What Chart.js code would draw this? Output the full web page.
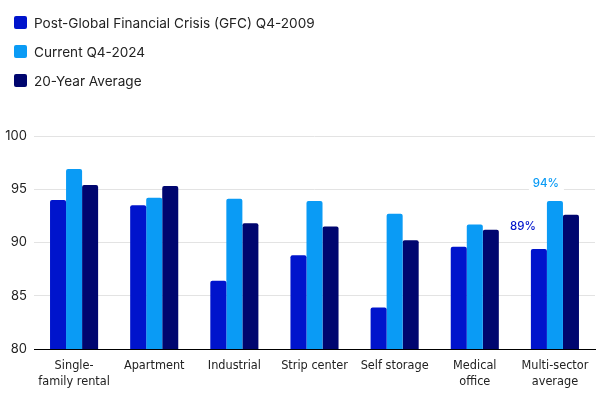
<!DOCTYPE html>
<html>
<head>
<meta charset="utf-8">
<script src="https://cdn.jsdelivr.net/npm/chart.js@4.4.1/dist/chart.umd.min.js"></script>
<style>
  html, body { margin: 0; padding: 0; background: #fff; }
  #wrap { position: relative; width: 600px; height: 394px; }
  #legend { position: absolute; left: 14px; top: 8px; font-family: Inter, 'Noto Sans', sans-serif; font-size: 13.6px; color: #222; }
  .item { display: flex; align-items: center; height: 29px; }
  .box { width: 13px; height: 13px; border-radius: 2px; margin-right: 7px; }
</style>
</head>
<body>
<div id="wrap">
  <canvas id="chart" width="600" height="394"></canvas>
  <div id="legend"></div>
</div>
<script>
// Data
const categories = [['Single-', 'family rental'], 'Apartment', 'Industrial', 'Strip center', 'Self storage', ['Medical', 'office'], ['Multi-sector', 'average']];
const seriesNames = ['Post-Global Financial Crisis (GFC) Q4-2009', 'Current Q4-2024', '20-Year Average'];
const gfcValues = [94.0, 93.5, 86.4, 88.8, 83.9, 89.6, 89.4];
const currentValues = [96.9, 94.2, 94.1, 93.9, 92.7, 91.7, 93.9];
const averageValues = [95.4, 95.3, 91.8, 91.5, 90.2, 91.2, 92.6];
const yTicks = [80, 85, 90, 95, 100];
const callouts = [
  { dataset: 0, index: 6, text: '89%' },
  { dataset: 1, index: 6, text: '94%' },
];

const colors = ['#0014CC', '#0A9BF5', '#00066F'];

// html legend, stacked like the original
const legendEl = document.getElementById('legend');
seriesNames.forEach((name, i) => {
  const row = document.createElement('div');
  row.className = 'item';
  row.innerHTML = '<span class="box" style="background:' + colors[i] + '"></span><span>' + name + '</span>';
  legendEl.appendChild(row);
});

// Draws the two % callouts over the multi-sector bars
const calloutPlugin = {
  id: 'callouts',
  afterDatasetsDraw(chart) {
    const ctx = chart.ctx;
    ctx.save();
    ctx.font = '500 11.5px Inter, "Noto Sans", sans-serif';
    ctx.textAlign = 'center';
    ctx.textBaseline = 'middle';
    callouts.forEach(c => {
      const bar = chart.getDatasetMeta(c.dataset).data[c.index];
      let x, y;
      if (c.dataset === 0) {
        x = bar.x - 16;
        y = bar.y - 22;
      } else {
        x = bar.x - 9;
        y = bar.y - 17;
        ctx.fillStyle = '#fff';
        ctx.fillRect(x - 17, y - 9, 35, 18);
      }
      ctx.fillStyle = colors[c.dataset];
      ctx.fillText(c.text, x, y);
    });
    ctx.restore();
  }
};

const datasets = [gfcValues, currentValues, averageValues].map((vals, i) => ({
  label: seriesNames[i],
  data: vals,
  backgroundColor: colors[i],
  borderRadius: { topLeft: 2, topRight: 2 },
  borderSkipped: 'bottom',
  categoryPercentage: 0.6,
  barPercentage: 1.0,
}));

new Chart(document.getElementById('chart'), {
  type: 'bar',
  data: { labels: categories, datasets: datasets },
  options: {
    responsive: false,
    animation: false,
    layout: { padding: { top: 136, right: 5, left: 0, bottom: 0 } },
    plugins: {
      legend: { display: false },
      tooltip: { enabled: false },
    },
    scales: {
      x: {
        grid: { display: false },
        border: { color: '#000', width: 1 },
        ticks: {
          color: '#222',
          font: { family: "'DejaVu Sans Condensed', 'DejaVu Sans', sans-serif", size: 12.6, lineHeight: 1.25 },
          padding: 1,
          maxRotation: 0,
          autoSkip: false,
        },
        afterFit(scale) { scale.height = 45; },
      },
      y: {
        min: 80,
        max: 100,
        afterBuildTicks(scale) { scale.ticks = yTicks.map(v => ({ value: v })); },
        grid: { color: '#e3e3e3', drawTicks: false },
        border: { display: false },
        ticks: {
          color: '#222',
          font: { family: 'Inter, "Noto Sans", sans-serif', size: 13 },
          padding: 7,
        },
        afterFit(scale) { scale.width = 34; },
      },
    },
  },
  plugins: [calloutPlugin],
});
</script>
</body>
</html>
